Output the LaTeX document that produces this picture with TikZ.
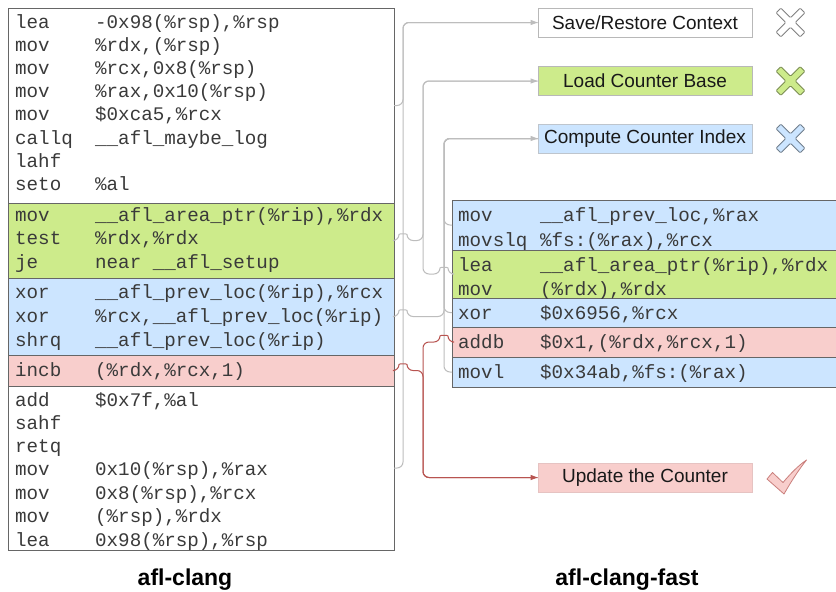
\documentclass[tikz,border=0pt]{standalone}
\usepackage{fontspec}
\setmainfont{Liberation Sans}
\newfontfamily\codefont{Liberation Mono}
\usetikzlibrary{arrows.meta,calc}
\definecolor{cgreen}{HTML}{CDEB8B}
\definecolor{cblue}{HTML}{CCE5FF}
\definecolor{cpink}{HTML}{F8CECC}
\definecolor{cgline}{HTML}{BDBDBD}
\definecolor{cred}{HTML}{B85450}
\definecolor{cborder}{HTML}{666666}
\definecolor{ctext}{HTML}{3A3A3A}
\definecolor{clegb}{HTML}{B8B8B8}
\newcommand\hopR[1]{-- ($(#1)+(-4,0)$) .. controls ($(#1)+(-4,-7)$) and ($(#1)+(4,-7)$) .. ($(#1)+(4,0)$)}
\newcommand\hopL[1]{-- ($(#1)+(4,0)$) .. controls ($(#1)+(4,-7)$) and ($(#1)+(-4,-7)$) .. ($(#1)+(-4,0)$)}
\begin{document}
\begin{tikzpicture}[x=1pt,y=-1pt,
  sec/.style={draw=cborder, line width=0.9pt, inner sep=0pt, outer sep=0pt, anchor=north west},
  lsec/.style={sec, minimum width=386pt},
  rsec/.style={sec, minimum width=390pt},
  code/.style={font=\codefont\fontsize{19.2}{23}\selectfont, text=ctext, inner sep=0pt, anchor=base west},
  leg/.style={minimum width=214pt, minimum height=29pt, inner sep=0pt, line width=0.8pt,
              font=\fontsize{19}{22}\selectfont, text=black!90},
  title/.style={font=\fontsize{23}{26}\selectfont\bfseries, text=black},
  gcon/.style={draw=cgline, line width=1pt, rounded corners=6pt},
  rcon/.style={draw=cred, line width=1pt, rounded corners=6pt},
  tip/.style={-{Triangle[length=7pt,width=5pt]}},
  xic/.style={line width=0.8pt, line join=round, rounded corners=1pt}
]
\useasboundingbox (0,0) rectangle (836,592);
\fill[white] (0,0) rectangle (836,592);

% left code box sections
\node[lsec, fill=white, minimum height=195pt] (w1) at (8,8) {};
\node[lsec, fill=cgreen, minimum height=75pt] (g1) at (8,203) {};
\node[lsec, fill=cblue, minimum height=77pt] (b1) at (8,278) {};
\node[lsec, fill=cpink, minimum height=31pt] (p1) at (8,355) {};
\node[lsec, fill=white, minimum height=164pt] (w2) at (8,386) {};

% right code box sections
\node[rsec, fill=cblue, minimum height=50pt] (rb1) at (452,200) {};
\node[rsec, fill=cgreen, minimum height=48pt] (rg) at (452,250) {};
\node[rsec, fill=cblue, minimum height=29pt] (rb2) at (452,298) {};
\node[rsec, fill=cpink, minimum height=30pt] (rp) at (452,327) {};
\node[rsec, fill=cblue, minimum height=30pt] (rb3) at (452,357) {};

% left code rows
\foreach \y/\op/\arg [count=\i] in {
  22/lea/{-0x98(\%rsp),\%rsp},
  45/mov/{\%rdx,(\%rsp)},
  68/mov/{\%rcx,0x8(\%rsp)},
  91/mov/{\%rax,0x10(\%rsp)},
  114/mov/{\$0xca5,\%rcx},
  138/callq/{\_\_afl\_maybe\_log},
  161/lahf/{},
  184/seto/{\%al},
  215/mov/{\_\_afl\_area\_ptr(\%rip),\%rdx},
  238/test/{\%rdx,\%rdx},
  262/je/{near \_\_afl\_setup},
  292/xor/{\_\_afl\_prev\_loc(\%rip),\%rcx},
  316/xor/{\%rcx,\_\_afl\_prev\_loc(\%rip)},
  340/shrq/{\_\_afl\_prev\_loc(\%rip)},
  370/incb/{(\%rdx,\%rcx,1)},
  400/add/{\$0x7f,\%al},
  423/sahf/{},
  446/retq/{},
  469/mov/{0x10(\%rsp),\%rax},
  493/mov/{0x8(\%rsp),\%rcx},
  516/mov/{(\%rsp),\%rdx},
  540/lea/{0x98(\%rsp),\%rsp}} {
  \node[code] (lop\i) at (15,\y+6) {\op};
  \node[code] (larg\i) at (95,\y+6) {\arg};
}

% right code rows
\foreach \y/\op/\arg [count=\i] in {
  215/mov/{\_\_afl\_prev\_loc,\%rax},
  240/movslq/{\%fs:(\%rax),\%rcx},
  265/lea/{\_\_afl\_area\_ptr(\%rip),\%rdx},
  289/mov/{(\%rdx),\%rdx},
  313/xor/{\$0x6956,\%rcx},
  342/addb/{\$0x1,(\%rdx,\%rcx,1)},
  372/movl/{\$0x34ab,\%fs:(\%rax)}} {
  \node[code] (rop\i) at (458,\y+6) {\op};
  \node[code] (rarg\i) at (540,\y+6) {\arg};
}

% legend boxes
\node[leg, draw=clegb, fill=white] (save) at (645,22.5) {Save/Restore Context};
\node[leg, draw=clegb, fill=cgreen] (load) at (645,81) {Load Counter Base};
\node[leg, draw=clegb!70!cblue, fill=cblue] (comp) at (645,138.5) {Compute Counter Index};
\node[leg, draw=cred!35, fill=cpink] (upd) at (645,477.5) {Update the Counter};

% titles
\node[title] (t1) at (185,580) {afl-clang};
\node[title] (t2) at (627,580) {afl-clang-fast};

% trunk x positions
\coordinate (tA) at (403,0);
\coordinate (tB) at (423,0);
\coordinate (tC) at (444,0);
% crossing points
\coordinate (hB1) at (g1.east -| tA);
\coordinate (hB2) at (rg.west -| tC);
\coordinate (hC1) at (b1.east -| tA);
\coordinate (hD1) at (p1.east -| tA);
\coordinate (hD2) at (rp.west -| tC);

% connector A : save/restore
\draw[gcon] (w1.east) -- (w1.east -| tA) -- (save.west -| tA) -- (save.west);
\draw[gcon, tip] (w2.east) -- (w2.east -| tA) -- (save.west -| tA) -- (save.west);

% connector C : compute counter index
\draw[gcon] (rb1.west) -- (rb1.west -| tC) -- (comp.west -| tC) -- (comp.west);
\draw[gcon] (rb2.west) -- (rb2.west -| tC) -- (comp.west -| tC) -- (comp.west);
\draw[gcon, tip] (rb3.west) -- (rb3.west -| tC) -- (comp.west -| tC) -- (comp.west);
\draw[gcon] (b1.east) \hopR{hC1} -- (b1.east -| tC) -- (comp.west -| tC) -- (comp.west);

% connector B : load counter base
\draw[gcon] (g1.east) \hopR{hB1} -- (g1.east -| tB) -- (load.west -| tB) -- (load.west);
\draw[gcon, tip] (rg.west) \hopL{hB2} -- (rg.west -| tB) -- (load.west -| tB) -- (load.west);

% connector D : update the counter
\draw[rcon] (p1.east) \hopR{hD1} -- (p1.east -| tB) -- (upd.west -| tB) -- (upd.west);
\draw[rcon, tip] (rp.west) \hopL{hD2} -- (rp.west -| tB) -- (upd.west -| tB) -- (upd.west);

% X icons
\foreach \cx/\cy/\fc/\dc [count=\i] in {790.5/22.5/white/black!50, 790.5/81/cgreen/cgreen!60!black, 790.5/138.5/cblue/cblue!55!black} {
  \begin{scope}[shift={(\cx,\cy)}]
    \draw[xic, fill=\fc, draw=\dc] (0,-4.8) -- (9.6,-14.4) -- (14.4,-9.6) -- (4.8,0) -- (14.4,9.6) -- (9.6,14.4) -- (0,4.8) -- (-9.6,14.4) -- (-14.4,9.6) -- (-4.8,0) -- (-14.4,-9.6) -- (-9.6,-14.4) -- cycle;
  \end{scope}
}
% check mark
\draw[line width=0.8pt, line join=round, fill=cpink, draw=cred!75] (767,479) -- (772.5,472.5) -- (783,482.5)
  .. controls (791,473) and (799,465) .. (806.5,460)
  .. controls (800,468) and (792,480) .. (784,494) -- cycle;
\end{tikzpicture}
\end{document}
